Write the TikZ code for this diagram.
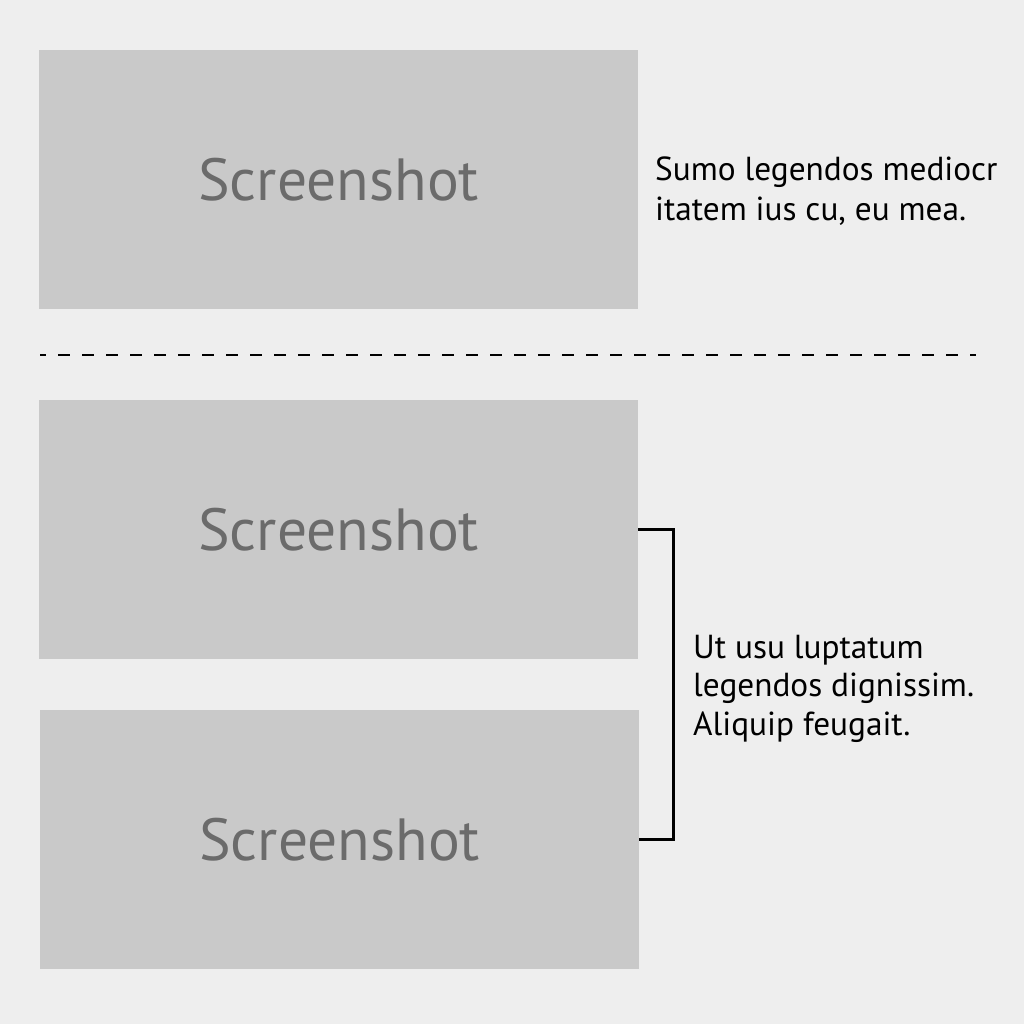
\documentclass[tikz,border=0pt]{standalone}
\usepackage{fontspec}
\setmainfont{PT Sans}
\definecolor{bggray}{HTML}{EEEEEE}
\definecolor{shotgray}{HTML}{C9C9C9}
\definecolor{labelgray}{HTML}{6B6B6B}
\begin{document}
\begin{tikzpicture}[x=1pt,y=-1pt,
 shot/.style={fill=shotgray, draw=none, minimum width=599pt, minimum height=259pt, inner sep=0pt, anchor=north west, text=labelgray, font=\fontsize{59.5}{72}\selectfont},
 note/.style={anchor=base west, align=left, inner sep=0pt, font=\fontsize{33.3}{40}\selectfont},
 bracket/.style={line width=3pt, black, line join=miter},
 sep/.style={line width=2pt, black, dash pattern=on 12pt off 12pt, dash phase=6pt}]
\fill[bggray] (0,0) rectangle (1024,1024);
\useasboundingbox (0,0) rectangle (1024,1024);
\node[shot] (s1) at (39,50) {Screenshot};
\node[shot] (s2) at (39,400) {Screenshot};
\node[shot] (s3) at (40,710) {Screenshot};
\node[note] (n1) at (655,221) {Sumo legendos mediocr\\itatem ius cu, eu mea.};
\node[note, font=\fontsize{33.3}{38.5}\selectfont] (n2) at (693,735) {Ut usu luptatum\\legendos dignissim.\\Aliquip feugait.};
\coordinate (dl) at (40,355);
\coordinate (dr) at (976,355);
\draw[sep] (dl) -- (dr);
\draw[bracket] (s2.east) -- ++(35,0) |- (s3.east);
\end{tikzpicture}
\end{document}
